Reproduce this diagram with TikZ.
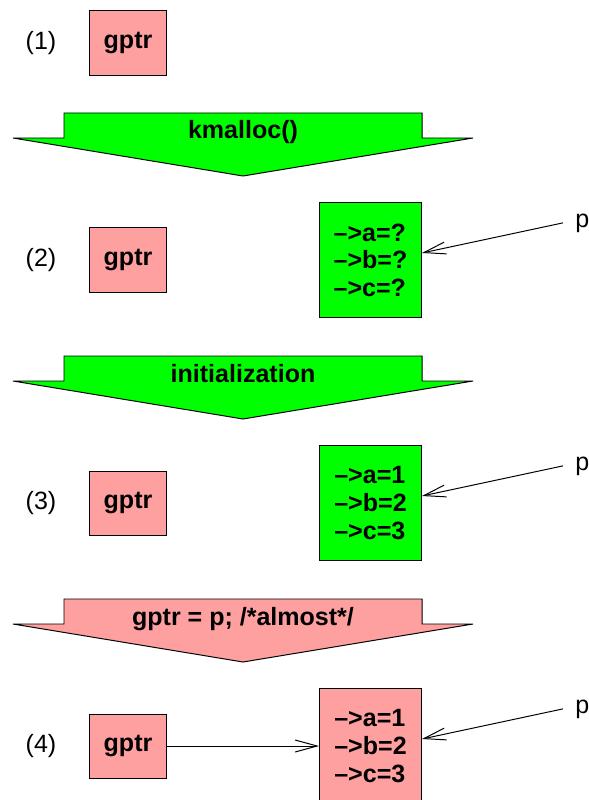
\documentclass[tikz,border=0pt]{standalone}
\usepackage{fontspec}
\setmainfont{Liberation Sans}
\usetikzlibrary{arrows.meta}
\definecolor{gptrpink}{HTML}{FFA0A0}
\definecolor{memgreen}{HTML}{00FF00}
\newcommand{\figfont}{\fontsize{17.8}{19.6}\selectfont}

\begin{document}
\begin{tikzpicture}[
    x=0.025cm, y=-0.025cm,
    ptrbox/.style={
      rectangle, draw=black, line width=0.7pt, fill=gptrpink,
      font=\figfont\bfseries, inner sep=0pt,
      minimum width=1.925cm, minimum height=1.6cm
    },
    membox/.style={
      rectangle, draw=black, line width=0.7pt,
      font=\figfont\bfseries, inner sep=0pt, align=left,
      minimum width=2.55cm, minimum height=2.875cm
    },
    stagenum/.style={font=\figfont},
    plabel/.style={font=\figfont, anchor=base west, inner xsep=0.3cm, inner ysep=0pt},
    bigarrow/.style={draw=black, line width=0.7pt, line join=miter},
    steplabel/.style={font=\figfont\bfseries, anchor=base},
    ptr/.style={-{Straight Barb[length=0.55cm, width=0.3cm]}, line width=0.7pt},
  ]
  \clip (0,0) rectangle (588,800);

  % (1)
  \node[stagenum] (num1) at (41,43) {(1)};
  \node[ptrbox] (gptr1) at (128,43) {gptr};

  \filldraw[bigarrow, fill=memgreen] (64,113) -- (422,113) -- (422,138) -- (473,138)
    -- (243,176) -- (13,138) -- (64,138) -- cycle;
  \node[steplabel] (kmalloc) at (243,139) {kmalloc()};

  % (2)
  \node[stagenum] (num2) at (41,260) {(2)};
  \node[ptrbox] (gptr2) at (128,260) {gptr};
  \node[membox, fill=memgreen] (mem2) at (370.5,260) {\textendash{}>a=?\\\textendash{}>b=?\\\textendash{}>c=?};
  \node[plabel] (p2) at (563,227) {p};
  \draw[ptr] (p2.west) -- ([yshift=0.175cm]mem2.east);

  \filldraw[bigarrow, fill=memgreen] (64,356) -- (422,356) -- (422,381) -- (473,381)
    -- (243,419) -- (13,381) -- (64,381) -- cycle;
  \node[steplabel] (init) at (243,382) {initialization};

  % (3)
  \node[stagenum] (num3) at (41,503) {(3)};
  \node[ptrbox] (gptr3) at (128,503) {gptr};
  \node[membox, fill=memgreen] (mem3) at (370.5,503) {\textendash{}>a=1\\\textendash{}>b=2\\\textendash{}>c=3};
  \node[plabel] (p3) at (563,470) {p};
  \draw[ptr] (p3.west) -- ([yshift=0.175cm]mem3.east);

  \filldraw[bigarrow, fill=gptrpink] (64,599) -- (422,599) -- (422,624) -- (473,624)
    -- (243,662) -- (13,624) -- (64,624) -- cycle;
  \node[steplabel] (assign) at (243,625) {gptr = p; /*almost*/};

  % (4)
  \node[stagenum] (num4) at (41,746) {(4)};
  \node[ptrbox] (gptr4) at (128,746) {gptr};
  \node[membox, fill=gptrpink] (mem4) at (370.5,746) {\textendash{}>a=1\\\textendash{}>b=2\\\textendash{}>c=3};
  \node[plabel] (p4) at (563,713) {p};
  \draw[ptr] (p4.west) -- ([yshift=0.175cm]mem4.east);
  \draw[ptr] (gptr4) -- (mem4);

\end{tikzpicture}
\end{document}
